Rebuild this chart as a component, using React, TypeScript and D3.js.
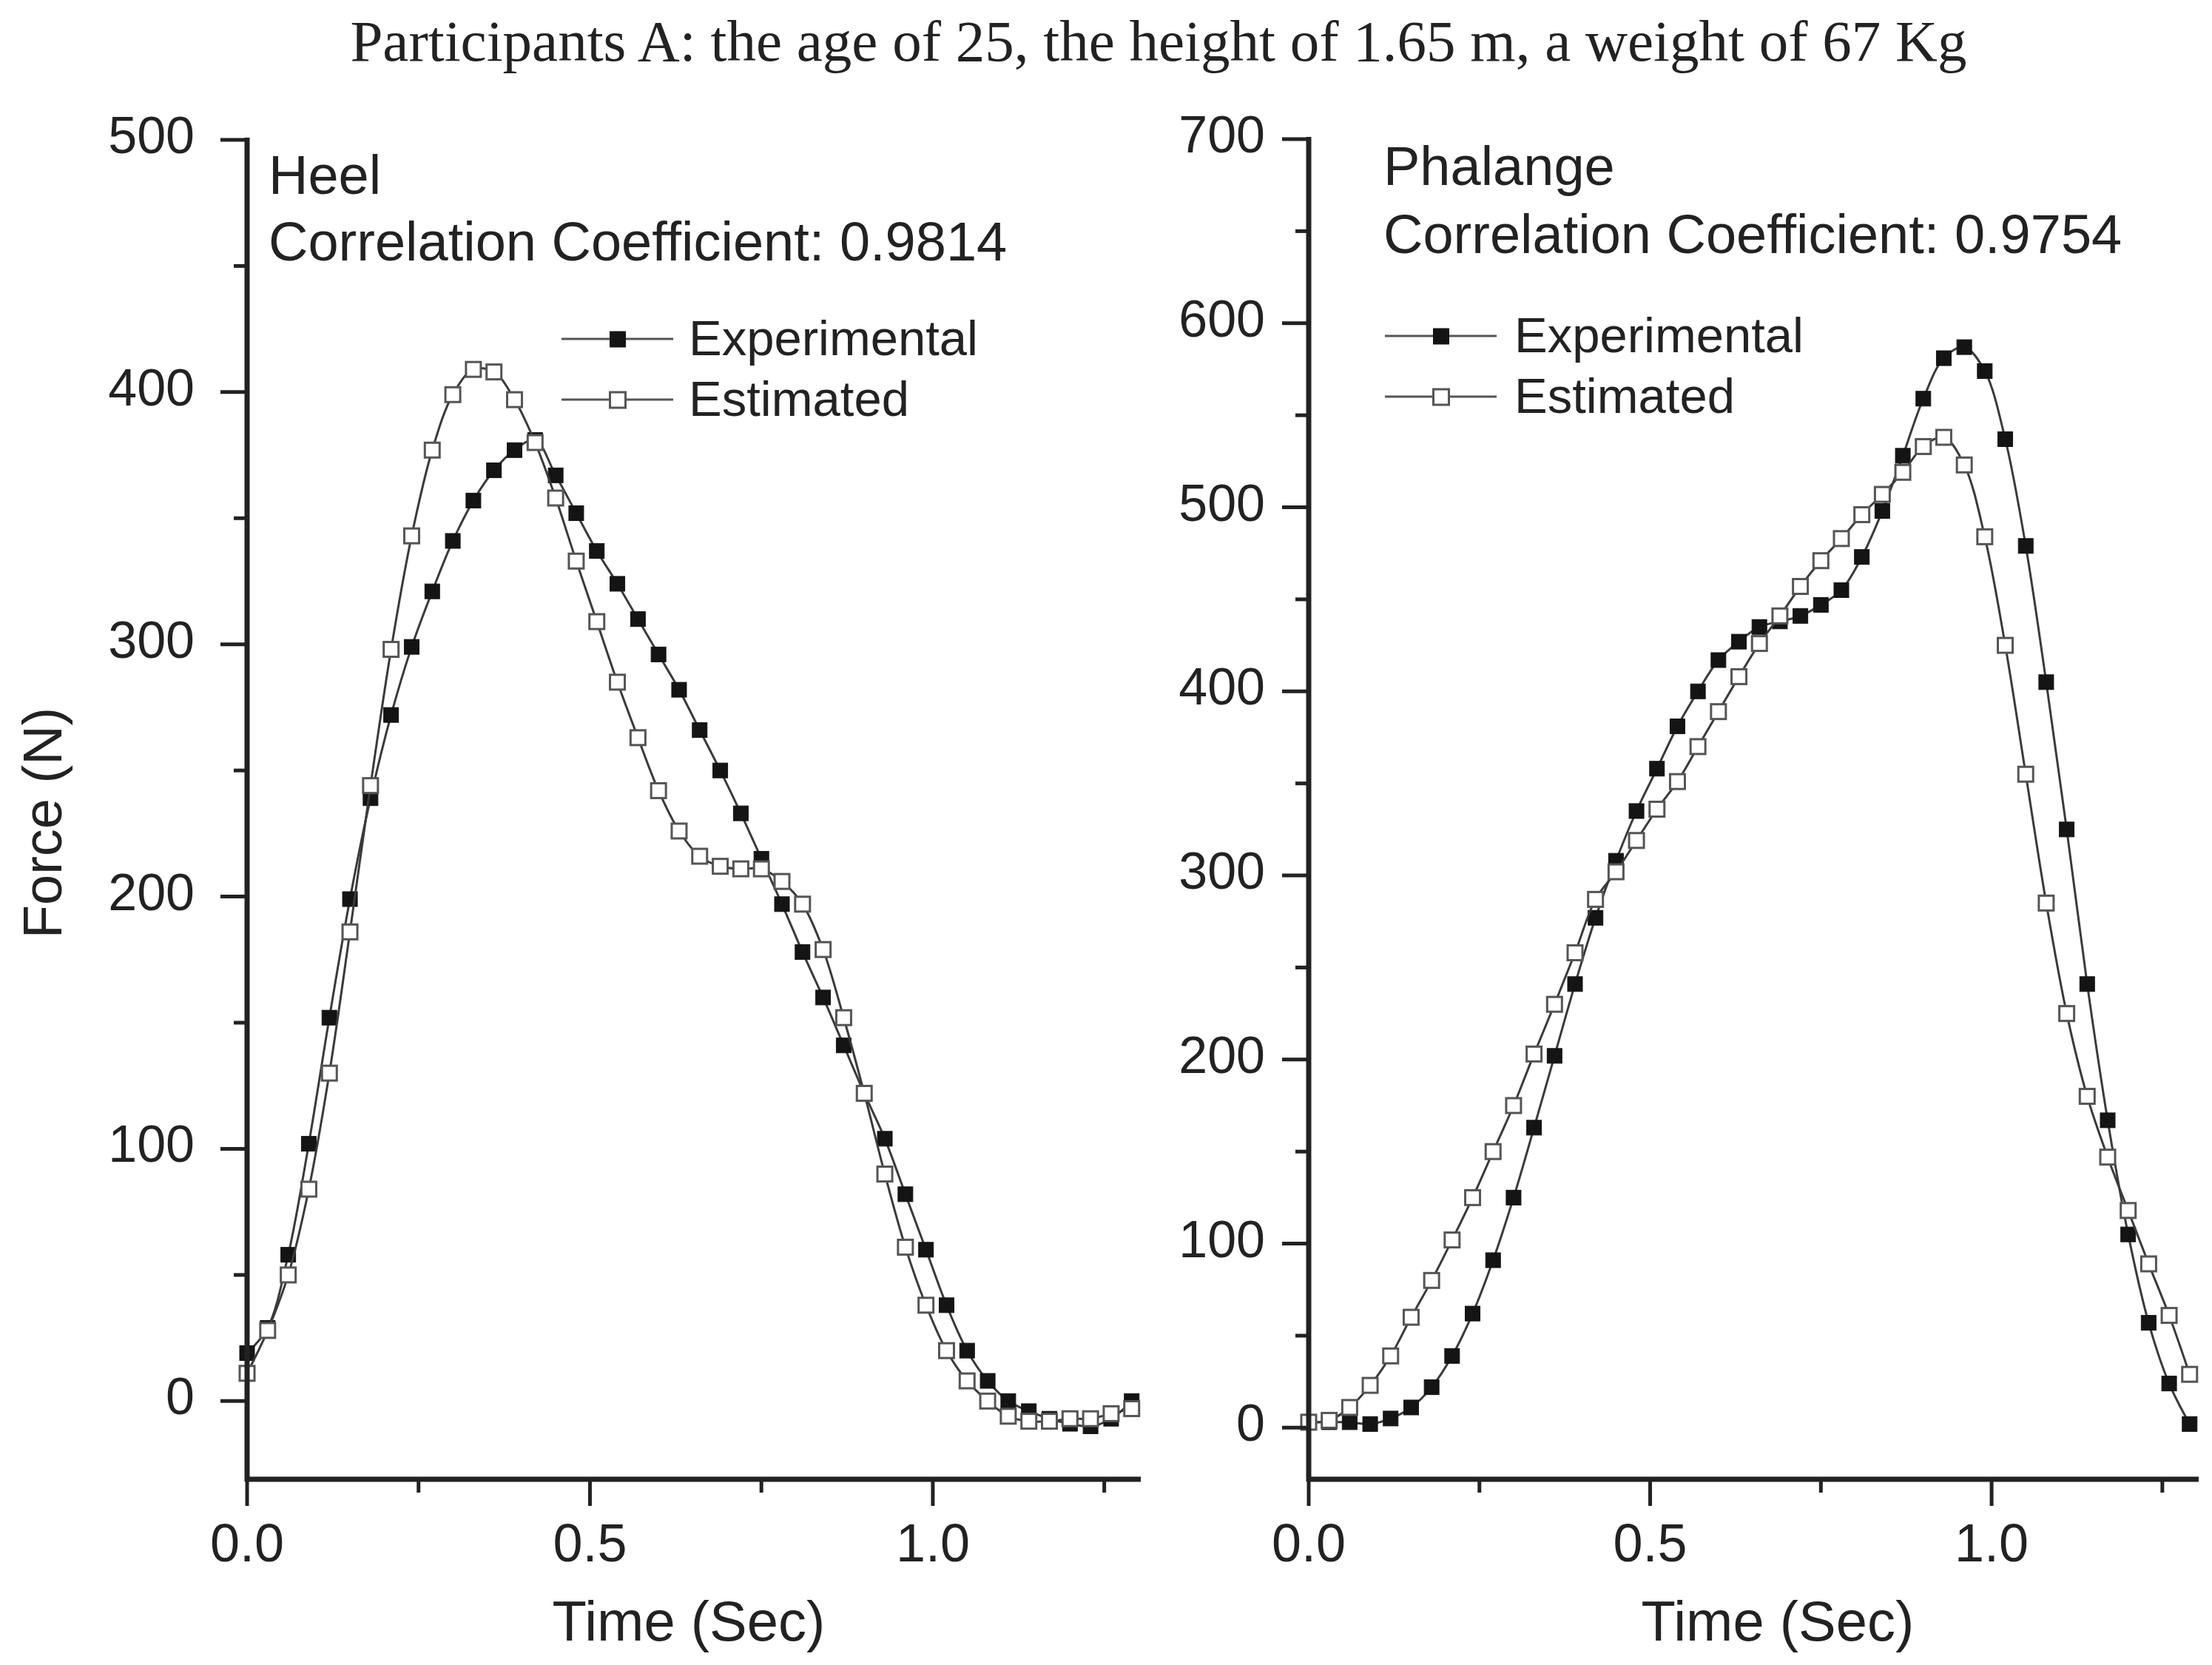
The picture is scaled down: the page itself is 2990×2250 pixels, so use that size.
import * as d3 from 'd3';

// sample times (s), shared by both panels
const times = [
  0, 0.03, 0.06, 0.09, 0.12, 0.15, 0.18, 0.21, 0.24, 0.27,
  0.3, 0.33, 0.36, 0.39, 0.42, 0.45, 0.48, 0.51, 0.54, 0.57,
  0.6, 0.63, 0.66, 0.69, 0.72, 0.75, 0.78, 0.81, 0.84, 0.87,
  0.9, 0.93, 0.96, 0.99, 1.02, 1.05, 1.08, 1.11, 1.14, 1.17,
  1.2, 1.23, 1.26, 1.29,
];

const heelExperimental = [
  19, 29, 58, 102, 152, 199, 239, 272, 299, 321,
  341, 357, 369, 377, 381, 367, 352, 337, 324, 310,
  296, 282, 266, 250, 233, 215, 197, 178, 160, 141,
  122, 104, 82, 60, 38, 20, 8, 0, -4, -7,
  -9, -10, -7, 0,
];
const heelEstimated = [
  11, 28, 50, 84, 130, 186, 244, 298, 343, 377,
  399, 409, 408, 397, 380, 358, 333, 309, 285, 263,
  242, 226, 216, 212, 211, 211, 206, 197, 179, 152,
  122, 90, 61, 38, 20, 8, 0, -6, -8, -8,
  -7, -7, -5, -3,
];

const phalangeExperimental = [
  3, 3, 3, 2, 5, 11, 22, 39, 62, 91,
  125, 163, 202, 241, 277, 308, 335, 358, 381, 400,
  417, 427, 435, 438, 441, 447, 455, 473, 498, 528,
  559, 581, 587, 574, 537, 479, 405, 325, 241, 167,
  105, 57, 24, 2,
];
const phalangeEstimated = [
  3, 4, 11, 23, 39, 60, 80, 102, 125, 150,
  175, 203, 230, 258, 287, 302, 319, 336, 351, 370,
  389, 408, 426, 441, 457, 471, 483, 496, 507, 519,
  533, 538, 523, 484, 425, 355, 285, 225, 180, 147,
  118, 89, 61, 29,
];

const xMajor = [0, 0.5, 1.0];
const xMinor = [0.25, 0.75, 1.25];
const heelYMajor = [0, 100, 200, 300, 400, 500];
const heelYMinor = [50, 150, 250, 350, 450];
const phalangeYMajor = [0, 100, 200, 300, 400, 500, 600, 700];
const phalangeYMinor = [50, 150, 250, 350, 450, 550, 650];

const seriesNames = ['Experimental', 'Estimated'];

const TITLE = 'Participants A: the age of 25, the height of 1.65 m, a weight of 67 Kg';
const SANS = '"Liberation Sans", Arial, Helvetica, sans-serif';
const SERIF = '"Liberation Serif", "Times New Roman", serif';
const INK = '#222';
const LINE = '#3a3a3a';

interface PanelProps {
  name: string;
  coef: string;
  experimental: number[];
  estimated: number[];
  yDomain: [number, number];
  yMajor: number[];
  yMinor: number[];
  xRange: [number, number];
  yRange: [number, number];
  labelGap: number;
  textX: number;
  nameY: number;
  coefY: number;
  legend: { x0: number; x1: number; textX: number; y: number[] };
  xTitleX: number;
}

function Panel(p: PanelProps) {
  const x = d3.scaleLinear().domain([0, 1.3]).range(p.xRange);
  const y = d3.scaleLinear().domain(p.yDomain).range(p.yRange);
  const line = d3
    .line<number>()
    .x((_, i) => x(times[i]))
    .y((d) => y(d))
    .curve(d3.curveCatmullRom.alpha(0.5));

  const [xl, xr] = p.xRange;
  const [yb, yt] = p.yRange;
  const m = 20; // marker size

  const series = [
    { values: p.experimental, fill: '#141414', stroke: '#141414' },
    { values: p.estimated, fill: '#fff', stroke: '#555' },
  ];

  return (
    <g>
      {series.map((s, k) => (
        <g key={k}>
          <path d={line(s.values) ?? ''} fill="none" stroke={LINE} strokeWidth={3} />
          {s.values.map((v, i) => (
            <rect
              key={i}
              x={x(times[i]) - m / 2}
              y={y(v) - m / 2}
              width={m}
              height={m}
              fill={s.fill}
              stroke={s.stroke}
              strokeWidth={k === 0 ? 1 : 3}
            />
          ))}
        </g>
      ))}

      {/* axes */}
      <line x1={xl} x2={xl} y1={yb + 3} y2={yt - 3} stroke={INK} strokeWidth={7} />
      <line x1={xl - 3} x2={xr + 3} y1={yb} y2={yb} stroke={INK} strokeWidth={7} />
      {p.yMajor.map((v) => (
        <g key={'ym' + v}>
          <line x1={xl - 36} x2={xl} y1={y(v)} y2={y(v)} stroke={INK} strokeWidth={5} />
          <text
            x={xl - p.labelGap}
            y={y(v) + 18}
            textAnchor="end"
            fontFamily={SANS}
            fontSize={70}
            fill={INK}
          >
            {v}
          </text>
        </g>
      ))}
      {p.yMinor.map((v) => (
        <line key={'yn' + v} x1={xl - 18} x2={xl} y1={y(v)} y2={y(v)} stroke={INK} strokeWidth={5} />
      ))}
      {xMajor.map((v) => (
        <g key={'xm' + v}>
          <line x1={x(v)} x2={x(v)} y1={yb} y2={yb + 36} stroke={INK} strokeWidth={5} />
          <text x={x(v)} y={yb + 111} textAnchor="middle" fontFamily={SANS} fontSize={72} fill={INK}>
            {v.toFixed(1)}
          </text>
        </g>
      ))}
      {xMinor.map((v) => (
        <line key={'xn' + v} x1={x(v)} x2={x(v)} y1={yb} y2={yb + 18} stroke={INK} strokeWidth={5} />
      ))}
      <text x={p.xTitleX} y={2217} textAnchor="middle" fontFamily={SANS} fontSize={76} fill={INK}>
        Time (Sec)
      </text>

      {/* annotation */}
      <text x={p.textX} y={p.nameY} fontFamily={SANS} fontSize={74} fill={INK}>
        {p.name}
      </text>
      <text x={p.textX} y={p.coefY} fontFamily={SANS} fontSize={74} fill={INK}>
        {'Correlation Coefficient: ' + p.coef}
      </text>

      {/* legend */}
      {seriesNames.map((n, k) => {
        const ly = p.legend.y[k];
        const mx = (p.legend.x0 + p.legend.x1) / 2;
        return (
          <g key={n}>
            <line x1={p.legend.x0} x2={p.legend.x1} y1={ly} y2={ly} stroke="#555" strokeWidth={3} />
            <rect
              x={mx - 10}
              y={ly - 10}
              width={21}
              height={21}
              fill={series[k].fill}
              stroke={series[k].stroke}
              strokeWidth={k === 0 ? 1 : 3}
            />
            <text x={p.legend.textX} y={ly + 22} fontFamily={SANS} fontSize={67} fill={INK}>
              {n}
            </text>
          </g>
        );
      })}
    </g>
  );
}

export default function App() {
  return (
    <svg
      width={2990}
      height={2250}
      viewBox="0 0 2990 2250"
      style={{ position: 'absolute', left: 0, top: 0, background: '#fff' }}
    >
      <rect width={2990} height={2250} fill="#fff" />
      <text x={1566} y={82} textAnchor="middle" fontFamily={SERIF} fontSize={79} fill={INK}>
        {TITLE}
      </text>
      <text
        transform="translate(83,1112) rotate(-90)"
        textAnchor="middle"
        fontFamily={SANS}
        fontSize={74}
        fill={INK}
      >
        Force (N)
      </text>
      <Panel
        name="Heel"
        coef="0.9814"
        experimental={heelExperimental}
        estimated={heelEstimated}
        yDomain={[-31, 500]}
        yMajor={heelYMajor}
        yMinor={heelYMinor}
        xRange={[334, 1539]}
        yRange={[1999, 189]}
        labelGap={71}
        textX={363}
        nameY={262}
        coefY={352}
        legend={{ x0: 759, x1: 910, textX: 931, y: [458, 540] }}
        xTitleX={931}
      />
      <Panel
        name="Phalange"
        coef="0.9754"
        experimental={phalangeExperimental}
        estimated={phalangeEstimated}
        yDomain={[-28, 700]}
        yMajor={phalangeYMajor}
        yMinor={phalangeYMinor}
        xRange={[1769, 2969]}
        yRange={[1999, 188]}
        labelGap={59}
        textX={1870}
        nameY={250}
        coefY={342}
        legend={{ x0: 1872, x1: 2023, textX: 2047, y: [454, 536] }}
        xTitleX={2403}
      />
    </svg>
  );
}
